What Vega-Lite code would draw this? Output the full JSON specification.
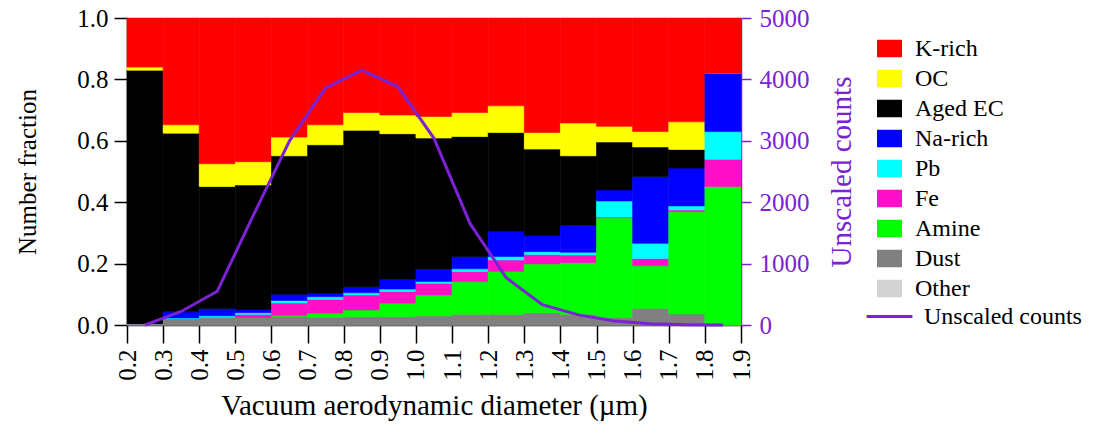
{
  "$schema": "https://vega.github.io/schema/vega-lite/v6.json",
  "autosize": {"type": "none"},
  "width": 614,
  "height": 307,
  "padding": {"left": 127, "top": 18, "right": 356, "bottom": 114},
  "background": "white",
  "config": {
    "view": {"stroke": null},
    "font": "Liberation Serif",
    "axis": {"labelFont": "Liberation Serif", "titleFont": "Liberation Serif", "titleFontWeight": "normal", "grid": false},
    "legend": {"labelFont": "Liberation Serif", "labelFontSize": 24, "labelColor": "black"}
  },
  "datasets": {
    "bars": [
      {"lo": 0.2, "hi": 0.3, "Other": 0, "Dust": 0.005, "Amine": 0, "Fe": 0, "Pb": 0, "Na-rich": 0, "Aged EC": 0.825, "OC": 0.01, "K-rich": 0.16},
      {"lo": 0.3, "hi": 0.4, "Other": 0, "Dust": 0.02, "Amine": 0, "Fe": 0, "Pb": 0.003, "Na-rich": 0.02, "Aged EC": 0.582, "OC": 0.027, "K-rich": 0.348},
      {"lo": 0.4, "hi": 0.5, "Other": 0, "Dust": 0.025, "Amine": 0, "Fe": 0, "Pb": 0.005, "Na-rich": 0.024, "Aged EC": 0.397, "OC": 0.074, "K-rich": 0.475},
      {"lo": 0.5, "hi": 0.6, "Other": 0, "Dust": 0.023, "Amine": 0, "Fe": 0.011, "Pb": 0.006, "Na-rich": 0.01, "Aged EC": 0.406, "OC": 0.076, "K-rich": 0.468},
      {"lo": 0.6, "hi": 0.7, "Other": 0, "Dust": 0.027, "Amine": 0.003, "Fe": 0.042, "Pb": 0.008, "Na-rich": 0.02, "Aged EC": 0.451, "OC": 0.061, "K-rich": 0.388},
      {"lo": 0.7, "hi": 0.8, "Other": 0, "Dust": 0.025, "Amine": 0.013, "Fe": 0.046, "Pb": 0.008, "Na-rich": 0.012, "Aged EC": 0.483, "OC": 0.065, "K-rich": 0.348},
      {"lo": 0.8, "hi": 0.9, "Other": 0, "Dust": 0.027, "Amine": 0.022, "Fe": 0.049, "Pb": 0.007, "Na-rich": 0.02, "Aged EC": 0.509, "OC": 0.058, "K-rich": 0.308},
      {"lo": 0.9, "hi": 1.0, "Other": 0, "Dust": 0.027, "Amine": 0.044, "Fe": 0.038, "Pb": 0.008, "Na-rich": 0.033, "Aged EC": 0.473, "OC": 0.061, "K-rich": 0.316},
      {"lo": 1.0, "hi": 1.1, "Other": 0, "Dust": 0.03, "Amine": 0.068, "Fe": 0.038, "Pb": 0.006, "Na-rich": 0.04, "Aged EC": 0.427, "OC": 0.07, "K-rich": 0.321},
      {"lo": 1.1, "hi": 1.2, "Other": 0, "Dust": 0.035, "Amine": 0.106, "Fe": 0.033, "Pb": 0.009, "Na-rich": 0.04, "Aged EC": 0.391, "OC": 0.078, "K-rich": 0.308},
      {"lo": 1.2, "hi": 1.3, "Other": 0, "Dust": 0.035, "Amine": 0.139, "Fe": 0.038, "Pb": 0.011, "Na-rich": 0.082, "Aged EC": 0.322, "OC": 0.087, "K-rich": 0.286},
      {"lo": 1.3, "hi": 1.4, "Other": 0, "Dust": 0.04, "Amine": 0.159, "Fe": 0.031, "Pb": 0.009, "Na-rich": 0.052, "Aged EC": 0.282, "OC": 0.054, "K-rich": 0.373},
      {"lo": 1.4, "hi": 1.5, "Other": 0, "Dust": 0.035, "Amine": 0.168, "Fe": 0.025, "Pb": 0.009, "Na-rich": 0.088, "Aged EC": 0.226, "OC": 0.107, "K-rich": 0.342},
      {"lo": 1.5, "hi": 1.6, "Other": 0, "Dust": 0.025, "Amine": 0.324, "Fe": 0.003, "Pb": 0.052, "Na-rich": 0.036, "Aged EC": 0.156, "OC": 0.051, "K-rich": 0.353},
      {"lo": 1.6, "hi": 1.7, "Other": 0, "Dust": 0.054, "Amine": 0.139, "Fe": 0.024, "Pb": 0.049, "Na-rich": 0.218, "Aged EC": 0.096, "OC": 0.05, "K-rich": 0.37},
      {"lo": 1.7, "hi": 1.8, "Other": 0, "Dust": 0.036, "Amine": 0.333, "Fe": 0.006, "Pb": 0.013, "Na-rich": 0.123, "Aged EC": 0.061, "OC": 0.09, "K-rich": 0.338},
      {"lo": 1.8, "hi": 1.9, "Other": 0, "Dust": 0, "Amine": 0.451, "Fe": 0.089, "Pb": 0.09, "Na-rich": 0.191, "Aged EC": 0, "OC": 0, "K-rich": 0.179}
    ],
    "counts": [
      {"d": 0.25, "counts": 0, "series": "Unscaled counts"},
      {"d": 0.35, "counts": 220, "series": "Unscaled counts"},
      {"d": 0.45, "counts": 550, "series": "Unscaled counts"},
      {"d": 0.55, "counts": 1790, "series": "Unscaled counts"},
      {"d": 0.65, "counts": 3000, "series": "Unscaled counts"},
      {"d": 0.75, "counts": 3860, "series": "Unscaled counts"},
      {"d": 0.85, "counts": 4150, "series": "Unscaled counts"},
      {"d": 0.95, "counts": 3880, "series": "Unscaled counts"},
      {"d": 1.05, "counts": 3040, "series": "Unscaled counts"},
      {"d": 1.15, "counts": 1650, "series": "Unscaled counts"},
      {"d": 1.25, "counts": 770, "series": "Unscaled counts"},
      {"d": 1.35, "counts": 330, "series": "Unscaled counts"},
      {"d": 1.45, "counts": 165, "series": "Unscaled counts"},
      {"d": 1.55, "counts": 65, "series": "Unscaled counts"},
      {"d": 1.65, "counts": 20, "series": "Unscaled counts"},
      {"d": 1.75, "counts": 6, "series": "Unscaled counts"},
      {"d": 1.85, "counts": 0, "series": "Unscaled counts"}
    ]
  },
  "layer": [
    {
      "data": {"name": "bars"},
      "transform": [
        {"fold": ["Other", "Dust", "Amine", "Fe", "Pb", "Na-rich", "Aged EC", "OC", "K-rich"], "as": ["type", "frac"]},
        {"calculate": "indexof(['Other','Dust','Amine','Fe','Pb','Na-rich','Aged EC','OC','K-rich'], datum.type)", "as": "stackorder"},
        {"stack": "frac", "groupby": ["lo"], "sort": [{"field": "stackorder", "order": "ascending"}], "as": ["y0", "y1"]}
      ],
      "mark": {"type": "rect", "strokeWidth": 0.6},
      "encoding": {
        "x": {
          "field": "lo", "type": "quantitative",
          "scale": {"domain": [0.2, 1.9], "nice": false, "zero": false},
          "axis": {
            "values": [0.2, 0.3, 0.4, 0.5, 0.6, 0.7, 0.8, 0.9, 1.0, 1.1, 1.2, 1.3, 1.4, 1.5, 1.6, 1.7, 1.8, 1.9],
            "format": ".1f", "labelAngle": 270, "labelFontSize": 25, "labelColor": "black",
            "tickSize": 18, "tickColor": "black", "domainColor": "black", "domainWidth": 1.5, "tickWidth": 1.5,
            "labelPadding": 6, "labelOverlap": false, "labelFlush": false,
            "title": "Vacuum aerodynamic diameter (µm)", "titleFontSize": 29, "titleColor": "black", "titlePadding": 11
          }
        },
        "x2": {"field": "hi"},
        "y": {
          "field": "y0", "type": "quantitative",
          "scale": {"domain": [0, 1], "nice": false},
          "axis": {
            "values": [0, 0.2, 0.4, 0.6, 0.8, 1.0], "format": ".1f", "labelFontSize": 25, "labelColor": "black",
            "tickSize": 13, "tickColor": "black", "domainColor": "black", "domainWidth": 1.5, "tickWidth": 1.5,
            "labelPadding": 6,
            "title": "Number fraction", "titleFontSize": 25, "titleColor": "black", "titlePadding": 36
          }
        },
        "y2": {"field": "y1"},
        "color": {
          "field": "type", "type": "nominal",
          "scale": {
            "domain": ["K-rich", "OC", "Aged EC", "Na-rich", "Pb", "Fe", "Amine", "Dust", "Other"],
            "range": ["#ff0000", "#ffff00", "#000000", "#0000ff", "#00ffff", "#ff10c8", "#00ff00", "#808080", "#d3d3d3"]
          },
          "legend": {
            "title": null, "orient": "none", "legendX": 750, "legendY": 18,
            "symbolType": "M-1,-0.7H1V0.7H-1Z", "symbolSize": 625, "symbolStrokeWidth": 0,
            "labelOffset": 13, "rowPadding": 5, "padding": 0
          }
        },
        "stroke": {
          "field": "type", "type": "nominal",
          "scale": {
            "domain": ["K-rich", "OC", "Aged EC", "Na-rich", "Pb", "Fe", "Amine", "Dust", "Other"],
            "range": ["#ff0000", "#ffff00", "#000000", "#0000ff", "#00ffff", "#ff10c8", "#00ff00", "#808080", "#d3d3d3"]
          },
          "legend": null
        }
      }
    },
    {
      "data": {"name": "counts"},
      "mark": {"type": "line", "strokeWidth": 3},
      "encoding": {
        "x": {
          "field": "d", "type": "quantitative",
          "axis": {
            "values": [0.2, 0.3, 0.4, 0.5, 0.6, 0.7, 0.8, 0.9, 1.0, 1.1, 1.2, 1.3, 1.4, 1.5, 1.6, 1.7, 1.8, 1.9],
            "format": ".1f", "labelAngle": 270, "labelFontSize": 25, "labelColor": "black",
            "tickSize": 18, "tickColor": "black", "domainColor": "black", "domainWidth": 1.5, "tickWidth": 1.5,
            "labelPadding": 6, "labelOverlap": false, "labelFlush": false,
            "title": "Vacuum aerodynamic diameter (µm)", "titleFontSize": 29, "titleColor": "black", "titlePadding": 11
          }
        },
        "y": {
          "field": "counts", "type": "quantitative",
          "scale": {"domain": [0, 5000], "nice": false},
          "axis": {
            "orient": "right", "values": [0, 1000, 2000, 3000, 4000, 5000], "format": "d",
            "labelFontSize": 25, "labelColor": "#7a22d4", "tickColor": "#7a22d4", "domainColor": "#7a22d4",
            "tickSize": 10, "domainWidth": 1.5, "tickWidth": 1.5, "labelPadding": 8,
            "title": "Unscaled counts", "titleFontSize": 29, "titleColor": "#7a22d4", "titleAngle": 270,
            "titleBaseline": "top", "titlePadding": 18
          }
        },
        "stroke": {
          "field": "series", "type": "nominal",
          "scale": {"domain": ["Unscaled counts"], "range": ["#7a22d4"]},
          "legend": {
            "title": null, "orient": "none", "legendX": 738, "legendY": 274,
            "symbolType": "stroke", "symbolSize": 2100, "symbolStrokeWidth": 3, "labelOffset": 10, "padding": 0
          }
        }
      }
    }
  ],
  "resolve": {"scale": {"y": "independent", "color": "independent", "stroke": "independent"}}
}
